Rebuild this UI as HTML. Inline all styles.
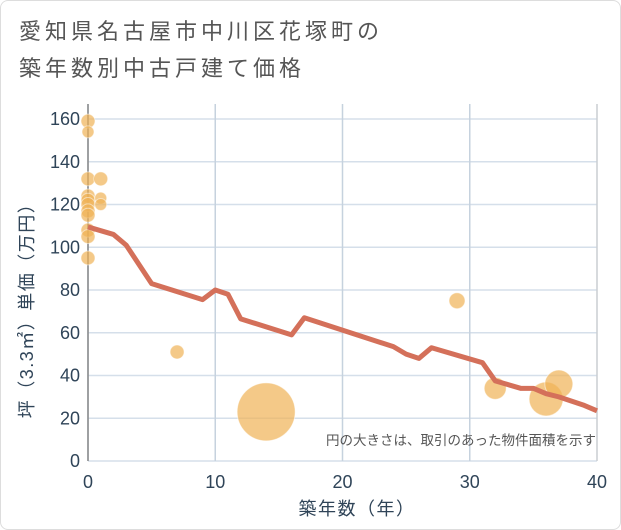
<!DOCTYPE html>
<html><head><meta charset="utf-8"><style>
body{margin:0;background:#fff;}
#wrap{position:relative;width:619px;height:528px;border:1px solid #ddd;border-radius:8px;background:#fff;overflow:hidden;font-family:"Liberation Sans","Noto Sans CJK JP",sans-serif;}
#title{position:absolute;left:18px;top:12px;font-size:22px;letter-spacing:4px;line-height:37px;color:#555;}
</style></head><body>
<div id="wrap">
<div id="title">愛知県名古屋市中川区花塚町の<br>築年数別中古戸建て価格</div>
<svg id="chart" width="621" height="530" style="position:absolute;left:0;top:0"></svg>
</div>
<script>
const xTicks=[0,10,20,30,40];
const yTicks=[0,20,40,60,80,100,120,140,160];
const lineX=[0,2,3,5,9,10,11,12,16,17,24,25,26,27,31,32,34,35,36,37,38,39,40];
const lineY=[109.5,106,101,83,75.5,80,78,66.5,59,67,53.5,50,48,53,46,37.5,34,34,31.5,30,28,26,23.5];
const bubX=[0,0,0,0,0,0,0,0,0,0,0,1,1,1,7,14,29,32,36,37];
const bubY=[159,154,132,124,122,120,117,115,108,105,95,132,123,120,51,23,75,34,29,36];
const bubR=[7,6,7,7,7,7,7,7,7,7,7,7,6,6,7,29,8,11,17,14];
const X0=87,X1=596,Y0=460,Y1=118;
const sx=v=>X0+(X1-X0)*v/40, sy=v=>Y0-(Y0-Y1)*v/160;
const svg=document.getElementById('chart'),NS='http://www.w3.org/2000/svg';
function mk(t,a,p){const e=document.createElementNS(NS,t);for(const k in a)e.setAttribute(k,a[k]);(p||svg).appendChild(e);return e;}
const bg=mk('rect',{x:X0,y:103,width:X1-X0,height:Y0-103,fill:'#fff'});


yTicks.forEach(v=>{
 const l=mk('line',{x1:X0,x2:X1,y1:sy(v),y2:sy(v),stroke:'#d5dfea','stroke-width':1.5});
 
 
 const t=mk('text',{x:X0-8,y:sy(v)+6,'text-anchor':'end','font-size':18,fill:'#2f4458'});t.textContent=v;
 
 
});
xTicks.forEach(v=>{
 const l=mk('line',{x1:sx(v),x2:sx(v),y1:103,y2:Y0,stroke:'#c6d2de','stroke-width':1.5});
 
 
 const t=mk('text',{x:sx(v),y:Y0+27,'text-anchor':'middle','font-size':18,fill:'#2f4458'});t.textContent=v;
 
 
});
const ax=mk('line',{x1:X0,x2:X0,y1:103,y2:Y0,stroke:'#888','stroke-width':1.5});


const ax2=mk('line',{x1:X1,x2:X1,y1:103,y2:Y0,stroke:'#ccc','stroke-width':1});


bubX.forEach((v,i)=>{
 const c=mk('circle',{cx:sx(v),cy:sy(bubY[i]),r:bubR[i],fill:'rgba(240,178,85,0.7)',stroke:'rgba(255,255,255,0.5)','stroke-width':1});
 
 
});
const pl=mk('polyline',{points:lineX.map((v,i)=>sx(v)+','+sy(lineY[i])).join(' '),fill:'none',stroke:'#d4705a','stroke-width':5,'stroke-linejoin':'round'});


const note=mk('text',{x:595,y:444,'text-anchor':'end','font-size':13.5,fill:'#555'});note.textContent='円の大きさは、取引のあった物件面積を示す';


const xt=mk('text',{x:356,y:514,'text-anchor':'middle','font-size':18,'letter-spacing':1.5,fill:'#2f4458'});xt.textContent='築年数（年）';


const yt=mk('text',{x:0,y:0,'text-anchor':'middle','font-size':18,'letter-spacing':1.5,fill:'#2f4458',transform:'translate(32,305) rotate(-90)'});yt.textContent='坪（3.3㎡）単価（万円）';


</script>
</body></html>
